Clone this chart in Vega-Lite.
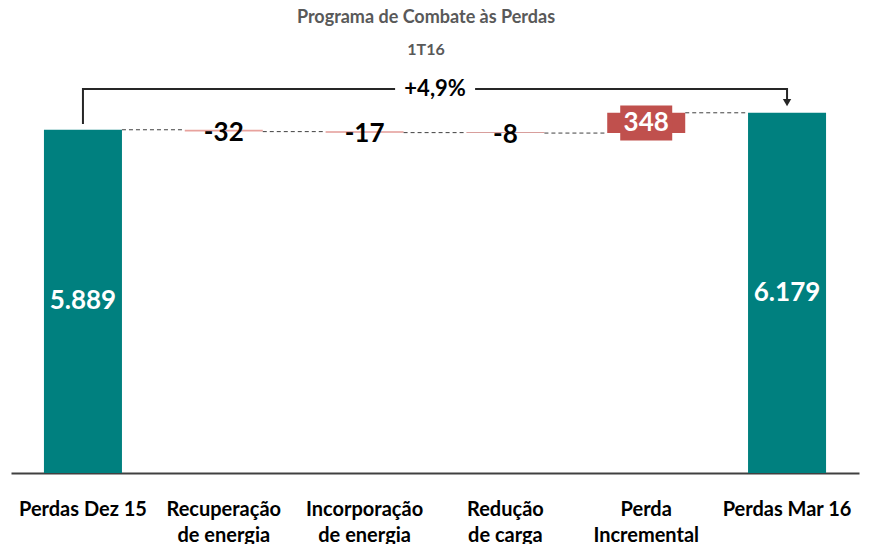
{
  "$schema": "https://vega.github.io/schema/vega-lite/v6.json",
  "autosize": {"type": "none"},
  "width": 848,
  "height": 408,
  "padding": {"left": 11, "top": 65, "right": 12, "bottom": 71},
  "config": {"view": {"stroke": null}, "font": "Lato"},
  "title": {
    "text": "Programa de Combate às Perdas",
    "subtitle": "1T16",
    "anchor": "middle",
    "frame": "group",
    "dx": -9,
    "offset": 7,
    "font": "Lato",
    "fontSize": 18,
    "fontWeight": "bold",
    "color": "#595959",
    "subtitleFont": "Lato",
    "subtitleFontSize": 16,
    "subtitleFontWeight": "bold",
    "subtitleColor": "#595959",
    "subtitlePadding": 15
  },
  "datasets": {
    "steps": [
      {"cat": "Perdas Dez 15", "start": 0, "end": 5889, "label": "5.889", "kind": "total"},
      {"cat": "Recuperação de energia", "start": 5857, "end": 5889, "label": "-32", "kind": "neg"},
      {"cat": "Incorporação de energia", "start": 5840, "end": 5857, "label": "-17", "kind": "neg"},
      {"cat": "Redução de carga", "start": 5832, "end": 5840, "label": "-8", "kind": "neg"},
      {"cat": "Perda Incremental", "start": 5832, "end": 6180, "label": "348", "kind": "pos"},
      {"cat": "Perdas Mar 16", "start": 0, "end": 6179, "label": "6.179", "kind": "total"}
    ],
    "links": [
      {"from": "Perdas Dez 15", "to": "Recuperação de energia", "level": 5889},
      {"from": "Recuperação de energia", "to": "Incorporação de energia", "level": 5857},
      {"from": "Incorporação de energia", "to": "Redução de carga", "level": 5840},
      {"from": "Redução de carga", "to": "Perda Incremental", "level": 5832},
      {"from": "Perda Incremental", "to": "Perdas Mar 16", "level": 6180}
    ],
    "bracket": [
      {"cat": "Perdas Dez 15", "v": 5987, "o": 1},
      {"cat": "Perdas Dez 15", "v": 6588, "o": 2},
      {"cat": "Perdas Mar 16", "v": 6588, "o": 3},
      {"cat": "Perdas Mar 16", "v": 6400, "o": 4}
    ],
    "arrow": [{"cat": "Perdas Mar 16", "v": 6355}],
    "change": [{"cat": "Incorporação de energia", "v": 6588, "label": "+4,9%"}]
  },
  "layer": [
    {
      "data": {"name": "steps"},
      "mark": {"type": "bar"},
      "encoding": {
        "x": {
          "field": "cat",
          "type": "nominal",
          "sort": null,
          "scale": {
            "domain": ["Perdas Dez 15", "Recuperação de energia", "Incorporação de energia", "Redução de carga", "Perda Incremental", "Perdas Mar 16"],
            "paddingInner": 0.446,
            "paddingOuter": 0.234
          },
          "axis": {
            "title": null,
            "labelAngle": 0,
            "ticks": false,
            "domain": true,
            "domainColor": "#404040",
            "domainWidth": 2,
            "labelFont": "Lato",
            "labelFontSize": 20,
            "labelFontWeight": "bold",
            "labelColor": "#000000",
            "labelPadding": 26,
            "labelLineHeight": 26,
            "labelExpr": "datum.label == 'Perda Incremental' ? ['Perda', 'Incremental'] : datum.label == 'Redução de carga' ? ['Redução', 'de carga'] : test(/ de energia$/, datum.label) ? [replace(datum.label, ' de energia', ''), 'de energia'] : datum.label"
          }
        },
        "y": {"field": "start", "type": "quantitative", "scale": {"domain": [0, 7000]}, "axis": null},
        "y2": {"field": "end"},
        "color": {
          "field": "cat",
          "type": "nominal",
          "scale": {
            "domain": ["Perdas Dez 15", "Recuperação de energia", "Incorporação de energia", "Redução de carga", "Perda Incremental", "Perdas Mar 16"],
            "range": ["#00807F", "#E8A29D", "#D66B64", "#B23F3B", "#C0504D", "#00807F"]
          },
          "legend": null
        }
      }
    },
    {
      "data": {"name": "links"},
      "mark": {"type": "rule", "xOffset": 39, "x2Offset": -39, "strokeDash": [4, 3], "color": "#404040", "strokeWidth": 1},
      "encoding": {
        "x": {"field": "from", "type": "nominal"},
        "x2": {"field": "to"},
        "y": {"field": "level", "type": "quantitative"}
      }
    },
    {
      "data": {"name": "bracket"},
      "mark": {"type": "line", "color": "#262626", "strokeWidth": 2},
      "encoding": {
        "x": {"field": "cat", "type": "nominal"},
        "y": {"field": "v", "type": "quantitative"},
        "order": {"field": "o"}
      }
    },
    {
      "data": {"name": "arrow"},
      "mark": {"type": "point", "shape": "triangle-down", "filled": true, "color": "#262626", "size": 70, "opacity": 1},
      "encoding": {
        "x": {"field": "cat", "type": "nominal"},
        "y": {"field": "v", "type": "quantitative"}
      }
    },
    {
      "data": {"name": "change"},
      "mark": {"type": "point", "shape": "M-1,-0.4L1,-0.4L1,0.4L-1,0.4Z", "filled": true, "color": "#ffffff", "size": 6400, "opacity": 1, "xOffset": 70.5},
      "encoding": {
        "x": {"field": "cat", "type": "nominal"},
        "y": {"field": "v", "type": "quantitative"}
      }
    },
    {
      "data": {"name": "change"},
      "mark": {"type": "text", "font": "Lato", "fontSize": 22, "fontWeight": "bold", "color": "#000000", "xOffset": 70.5, "baseline": "middle", "align": "center"},
      "encoding": {
        "x": {"field": "cat", "type": "nominal"},
        "y": {"field": "v", "type": "quantitative"},
        "text": {"field": "label"}
      }
    },
    {
      "data": {"name": "steps"},
      "transform": [
        {"filter": "datum.kind == 'pos'"},
        {"calculate": "(datum.start + datum.end) / 2", "as": "mid"}
      ],
      "mark": {"type": "point", "shape": "M-1,-0.673L1,-0.673L1,0.673L-1,0.673Z", "filled": true, "color": "#C0504D", "size": 2704, "opacity": 1},
      "encoding": {
        "x": {"field": "cat", "type": "nominal"},
        "y": {"field": "mid", "type": "quantitative"}
      }
    },
    {
      "data": {"name": "steps"},
      "transform": [
        {"filter": "datum.kind != 'neg'"},
        {"calculate": "(datum.start + datum.end) / 2", "as": "mid"}
      ],
      "mark": {"type": "text", "font": "Lato", "fontSize": 26, "fontWeight": "bold", "color": "#ffffff", "baseline": "middle", "align": "center"},
      "encoding": {
        "x": {"field": "cat", "type": "nominal"},
        "y": {"field": "mid", "type": "quantitative"},
        "text": {"field": "label"}
      }
    },
    {
      "data": {"name": "steps"},
      "transform": [
        {"filter": "datum.kind == 'neg'"},
        {"calculate": "(datum.start + datum.end) / 2", "as": "mid"}
      ],
      "mark": {"type": "text", "font": "Lato", "fontSize": 26, "fontWeight": "bold", "color": "#000000", "baseline": "middle", "align": "center", "dy": 2},
      "encoding": {
        "x": {"field": "cat", "type": "nominal"},
        "y": {"field": "mid", "type": "quantitative"},
        "text": {"field": "label"}
      }
    }
  ]
}
